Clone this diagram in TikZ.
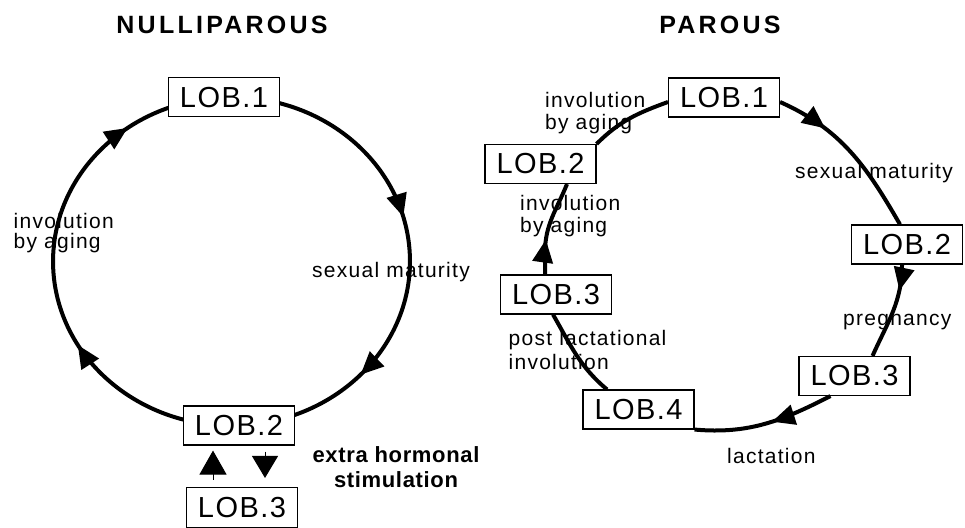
\documentclass[tikz,border=0pt]{standalone}
\usepackage{fontspec}
\setmainfont{Liberation Sans}
\newfontfamily\lobfont[LetterSpace=5]{Liberation Sans}
\newfontfamily\labfont[LetterSpace=6]{Liberation Sans}
\newfontfamily\boldlab[LetterSpace=3]{Liberation Sans}
\newfontfamily\titfont[LetterSpace=13]{Liberation Sans}
\usetikzlibrary{arrows.meta,decorations.markings,backgrounds,calc}
\begin{document}
\begin{tikzpicture}[x=1pt,y=1pt,
  lob/.style={draw, line width=1.1pt, fill=white, minimum width=111pt, minimum height=39pt, inner sep=0pt, font=\lobfont\fontsize{29}{30}\selectfont},
  lab/.style={inner sep=0pt, align=left, font=\labfont\fontsize{21}{#1}\selectfont},
  lab/.default=22,
  cyc/.style={line width=4pt},
  tip/.tip={Triangle[length=23pt,width=20pt]},
  title/.style={inner sep=0pt, anchor=base, font=\titfont\bfseries\fontsize{25}{26}\selectfont}
]
\useasboundingbox (0,0) rectangle (965,-527);

% titles
\node[title] (t1) at (222,-34) {NULLIPAROUS};
\node[title] (t2) at (720,-34) {PAROUS};

% ---------- nulliparous ----------
\node[lob] (L1) at (224,-97.3) {LOB.1};
\node[lob] (L2) at (239,-425.5) {LOB.2};
\node[lob, minimum height=40pt] (L3) at (242,-507.5) {LOB.3};

\begin{scope}[on background layer]
\draw[cyc, postaction={decorate}, decoration={markings,
   mark=at position 0.43 with {\arrow{tip}},
   mark=at position 0.75 with {\arrow{tip}}}]
  (L1.center) arc[start angle=92.4, end angle=-87.6, x radius=178.5pt, y radius=164.2pt];
\draw[cyc, postaction={decorate}, decoration={markings,
   mark=at position 0.35 with {\arrow{tip}},
   mark=at position 0.81 with {\arrow{tip}}}]
  (L2.center) arc[start angle=-87.6, end angle=-267.6, x radius=178.5pt, y radius=164.2pt];
\end{scope}

\draw[line width=1pt, -{Triangle[length=24pt,width=27pt]}] ([xshift=-29pt,yshift=7pt]L3.north) -- ([xshift=-26pt,yshift=-5pt]L2.south);
\draw[line width=1pt, -{Triangle[length=22pt,width=26pt]}] ([xshift=26pt,yshift=-6pt]L2.south) -- ([xshift=23pt,yshift=9pt]L3.north);

\node[lab=20.5, anchor=north west] (n1) at (13.5,-213) {involution\\by aging};
\node[lab, anchor=base west] (n2) at (312,-277) {sexual maturity};
\node[inner sep=0pt, align=center, anchor=north, font=\boldlab\bfseries\fontsize{22}{25}\selectfont] (n3) at (396,-446) {extra hormonal\\stimulation};

% ---------- parous ----------
\node[lob] (R1) at (724,-97.5) {LOB.1};
\node[lob] (R2a) at (540.5,-164) {LOB.2};
\node[lob] (R2b) at (907,-244.5) {LOB.2};
\node[lob] (R3b) at (854.5,-376) {LOB.3};
\node[lob] (R4) at (638.5,-409.5) {LOB.4};
\node[lob] (R3a) at (556,-294.5) {LOB.3};

\draw[cyc, postaction={decorate}, decoration={markings, mark=at position 0.30 with {\arrow{tip}}}]
  ([yshift=-4.5pt]R1.east) to[out=-24, in=120] ([xshift=-7pt]R2b.north);
\draw[cyc, postaction={decorate}, decoration={markings, mark=at position 0.27 with {\arrow{tip}}}]
  ([xshift=-5pt]R2b.south) to[out=-90, in=66] ([xshift=18pt]R3b.north);
\draw[cyc, postaction={decorate}, decoration={markings, mark=at position 0.45 with {\arrow{tip}}}]
  ([xshift=-24pt]R3b.south) to[out=-153, in=-5] (R4.south east);
\draw[cyc] ([xshift=-31.5pt]R4.north) to[out=140, in=-60] ([xshift=-3pt]R3a.south);
\draw[cyc, postaction={decorate}, decoration={markings, mark=at position 0.37 with {\arrow{tip}}}]
  ([xshift=-11pt]R3a.north) -- ++(0,22) to[out=90, in=-112] ([xshift=26.5pt]R2a.south);
\draw[cyc] (R2a.north east) to[out=45, in=-160] ([yshift=-4.5pt]R1.west);

\node[lab, anchor=north west] (m1) at (545,-92) {involution\\by aging};
\node[lab, anchor=north west] (m2) at (520,-195) {involution\\by aging};
\node[lab, anchor=base west] (m3) at (795,-178) {sexual maturity};
\node[lab, anchor=base west] (m4) at (843,-325) {pregnancy};
\node[lab=24, anchor=north west] (m5) at (508.5,-330) {post lactational\\involution};
\node[lab, anchor=base west] (m6) at (727,-463) {lactation};
\end{tikzpicture}
\end{document}
